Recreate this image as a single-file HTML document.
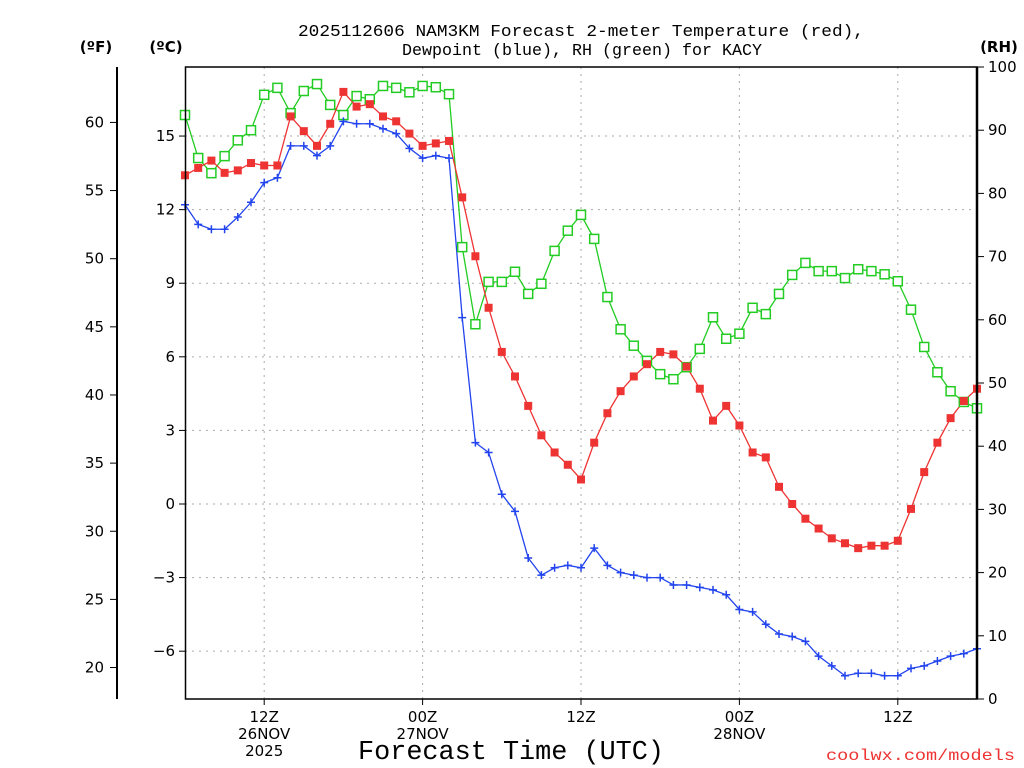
<!DOCTYPE html>
<html><head><meta charset="utf-8"><style>
body{margin:0;background:#fff;}
svg{display:block;font-family:"DejaVu Sans","Liberation Sans",sans-serif;}
.mono{font-family:"Liberation Mono","DejaVu Sans Mono",monospace;}
</style></head><body>
<svg id="chart" width="1024" height="768" viewBox="0 0 1024 768" xmlns="http://www.w3.org/2000/svg">
<g id="static">
<text class="mono" x="581" y="36" font-size="17" text-anchor="middle" textLength="566" lengthAdjust="spacingAndGlyphs">2025112606 NAM3KM Forecast 2-meter Temperature (red),</text>
<text class="mono" x="582" y="55" font-size="17" text-anchor="middle" textLength="360" lengthAdjust="spacingAndGlyphs">Dewpoint (blue), RH (green) for KACY</text>
<text x="96" y="52" font-size="15" font-weight="bold" text-anchor="middle">(ºF)</text>
<text x="166" y="52" font-size="15" font-weight="bold" text-anchor="middle">(ºC)</text>
<text x="999" y="52" font-size="15" font-weight="bold" text-anchor="middle">(RH)</text>
<text class="mono" x="511" y="759" font-size="27" text-anchor="middle" textLength="306" lengthAdjust="spacingAndGlyphs">Forecast Time (UTC)</text>
<text class="mono" x="1015" y="760" font-size="16" fill="#ee3333" text-anchor="end" textLength="189" lengthAdjust="spacingAndGlyphs">coolwx.com/models</text>
</g>
<g id="grid"></g>
<g id="axes"></g>
<g id="series"></g>
<rect x="185.5" y="67" width="791.5" height="632" fill="none" stroke="#000" stroke-width="1.5"/>
<line x1="977" y1="67" x2="977" y2="699" stroke="#000" stroke-width="2.5"/>
<line x1="117" y1="67" x2="117" y2="699" stroke="#000" stroke-width="2"/>
</svg>
<script>
const hours = Array.from({length:61},(_,i)=>i);
const tempC = [13.4,13.7,14.0,13.5,13.6,13.9,13.8,13.8,15.8,15.2,14.6,15.5,16.8,16.2,16.3,15.8,15.6,15.1,14.6,14.7,14.8,12.5,10.1,8.0,6.2,5.2,4.0,2.8,2.1,1.6,1.0,2.5,3.7,4.6,5.2,5.7,6.2,6.1,5.6,4.7,3.4,4.0,3.2,2.1,1.9,0.7,0.0,-0.6,-1.0,-1.4,-1.6,-1.8,-1.7,-1.7,-1.5,-0.2,1.3,2.5,3.5,4.2,4.7];
const dewC = [12.2,11.4,11.2,11.2,11.7,12.3,13.1,13.3,14.6,14.6,14.2,14.6,15.6,15.5,15.5,15.3,15.1,14.5,14.1,14.2,14.1,7.6,2.5,2.1,0.4,-0.3,-2.2,-2.9,-2.6,-2.5,-2.6,-1.8,-2.5,-2.8,-2.9,-3.0,-3.0,-3.3,-3.3,-3.4,-3.5,-3.7,-4.3,-4.4,-4.9,-5.3,-5.4,-5.6,-6.2,-6.6,-7.0,-6.9,-6.9,-7.0,-7.0,-6.7,-6.6,-6.4,-6.2,-6.1,-5.9];
const rh = [92.4,85.6,83.2,85.9,88.4,90.0,95.6,96.7,92.7,96.2,97.3,94.0,92.4,95.4,94.9,97.0,96.7,96.0,97.0,96.8,95.7,71.5,59.3,66.0,66.0,67.6,64.1,65.7,70.9,74.1,76.6,72.8,63.6,58.5,55.9,53.5,51.4,50.6,52.5,55.4,60.4,57.0,57.8,61.9,60.9,64.1,67.1,69.0,67.7,67.7,66.6,68.0,67.7,67.2,66.1,61.6,55.7,51.7,48.7,47.0,46.0];
const cTicks = [15,12,9,6,3,0,-3,-6];
const cTickLabels = ["15","12","9","6","3","0","\u22123","\u22126"];
const fTicks = [60,55,50,45,40,35,30,25,20];
const rhTicks = [0,10,20,30,40,50,60,70,80,90,100];
const timeTicks = [6,18,30,42,54];
const timeLabels = [["12Z","26NOV","2025"],["00Z","27NOV"],["12Z"],["00Z","28NOV"],["12Z"]];

const NS="http://www.w3.org/2000/svg";
const X0=185,X1=977,Y0=67,Y1=699;
const xS=h=>X0+(h-0)*(X1-X0)/60;
const yC=c=>504-c*24.53;
const yF=f=>yC((f-32)*5/9);
const yRH=r=>Y1-r*(Y1-Y0)/100;
function mk(tag,parent,attrs){const e=document.createElementNS(NS,tag);for(const k in attrs)e.setAttribute(k,attrs[k]);parent.appendChild(e);return e;}
const grid=document.getElementById('grid'),axes=document.getElementById('axes'),series=document.getElementById('series');

cTicks.forEach((c,i)=>{
  const y=yC(c);
  const g=mk('line',grid,{x1:X0,x2:X1,y1:y,y2:y,stroke:'#aaa','stroke-dasharray':'2,5'});
  
  
  const t=mk('line',axes,{x1:X0-6,x2:X0,y1:y,y2:y,stroke:'#000'});
  
  
  const l=mk('text',axes,{x:175,y:y+5,'font-size':15,'text-anchor':'end'});
  l.textContent=cTickLabels[i];
  
  
});
fTicks.forEach(f=>{
  const y=yF(f);
  const t=mk('line',axes,{x1:110,x2:117,y1:y,y2:y,stroke:'#000'});
  
  
  const l=mk('text',axes,{x:104,y:y+5,'font-size':15,'text-anchor':'end'});
  l.textContent=f;
  
  
});
rhTicks.forEach(r=>{
  const y=yRH(r);
  const t=mk('line',axes,{x1:X1,x2:X1+7,y1:y,y2:y,stroke:'#000'});
  
  
  const l=mk('text',axes,{x:988,y:y+5,'font-size':15,'text-anchor':'start'});
  l.textContent=r;
  
  
});
timeTicks.forEach((h,i)=>{
  const x=xS(h);
  const g=mk('line',grid,{x1:x,x2:x,y1:Y0,y2:Y1,stroke:'#aaa','stroke-dasharray':'2,5'});
  
  
  const t=mk('line',axes,{x1:x,x2:x,y1:Y1,y2:Y1+6,stroke:'#000'});
  
  
  timeLabels[i].forEach((s,j)=>{
    const l=mk('text',axes,{x:x,y:722+j*17,'font-size':15,'text-anchor':'middle'});
    l.textContent=s;
    
    
  });
});

function drawLine(vals,yf,color,name){
  const p=mk('polyline',series,{points:vals.map((v,i)=>xS(hours[i])+','+yf(v)).join(' '),fill:'none',stroke:color,'stroke-width':1.3});
  
  
}
drawLine(rh,yRH,'#22cc22','rh');
drawLine(tempC,yC,'#ee3333','temperature');
drawLine(dewC,yC,'#2244ee','dewpoint');
rh.forEach((v,i)=>{
  const m=mk('rect',series,{x:xS(hours[i])-4.5,y:yRH(v)-4.5,width:9,height:9,fill:'#fff',stroke:'#22cc22','stroke-width':1.5});
  
  
});
tempC.forEach((v,i)=>{
  const m=mk('rect',series,{x:xS(hours[i])-4,y:yC(v)-4,width:8,height:8,fill:'#ee3333'});
  
  
});
dewC.forEach((v,i)=>{
  const x=xS(hours[i]),y=yC(v);
  const m=mk('path',series,{d:`M${x-4},${y}H${x+4}M${x},${y-4}V${y+4}`,stroke:'#2244ee','stroke-width':1.5});
  
  
});
</script>
</body></html>
